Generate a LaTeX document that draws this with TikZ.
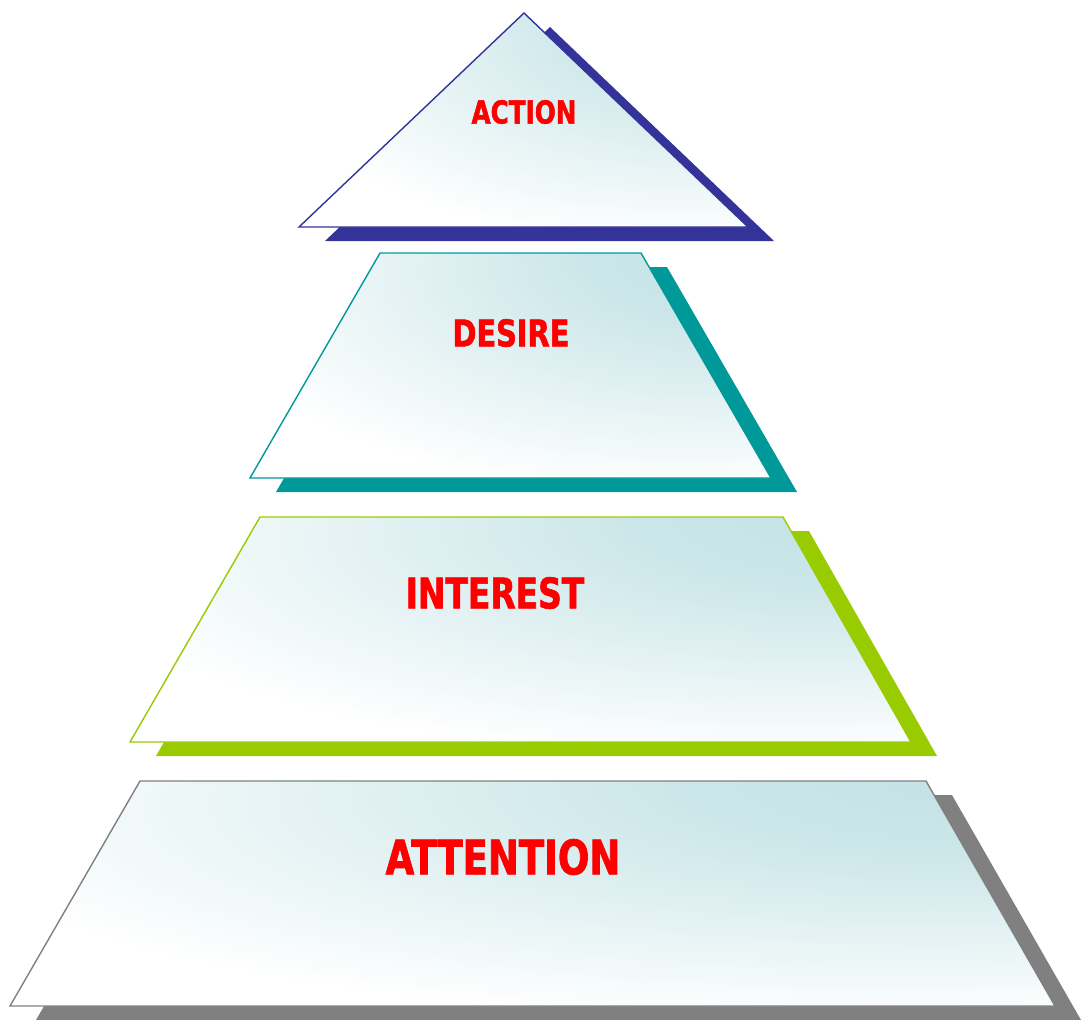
\documentclass[tikz,border=0pt]{standalone}
\usepackage{fontspec}
\usepackage{tikz}
\usetikzlibrary{shadings}
\newfontfamily\slabfont[FakeStretch=0.78, FakeBold=1.6]{DejaVu Sans}
\definecolor{glassteal}{RGB}{190,224,227}
\definecolor{actionblue}{RGB}{51,51,153}
\definecolor{desireteal}{RGB}{0,153,153}
\definecolor{interestgreen}{RGB}{153,204,0}
\definecolor{attentiongray}{RGB}{128,128,128}
\definecolor{labelred}{RGB}{255,0,0}
% glass-like fill, brightest towards the upper right corner
\pgfdeclareradialshading{glass}{\pgfpoint{28bp}{30bp}}{%
  color(0bp)=(glassteal); color(16bp)=(glassteal!80!white);
  color(45bp)=(white); color(100bp)=(white)}
\tikzset{
  % ----------------------------------------------------------------------------
  % one layer of the pyramid and the solid block behind it
  slab/.style={draw=#1, line width=0.8pt, shading=glass},
  slabshadow/.style={fill=#1, draw=none, shift={(26,14)}},
  % ----------------------------------------------------------------------------
  layertext/.style={text=labelred, inner sep=0pt,
    font={\slabfont\bfseries\fontsize{#1}{#1}\selectfont}}
}

\begin{document}
\begin{tikzpicture}[x=0.02cm, y=-0.02cm]
\useasboundingbox (0,0) rectangle (1082,1019);

% ------------------------------------------------- 
% top: action
\fill[slabshadow=actionblue] (524,13) -- (748,227) -- (299,227) -- cycle;
\path[slab=actionblue] (524,13) -- (748,227) -- (299,227) -- cycle;
\node [layertext=18pt] (action) at (524,112) {ACTION};

% ------------------------------------------------- 
% desire
\fill[slabshadow=desireteal] (380,253) -- (641,253) -- (771,478) -- (250,478) -- cycle;
\path[slab=desireteal] (380,253) -- (641,253) -- (771,478) -- (250,478) -- cycle;
\node [layertext=21pt] (desire) at (511,333) {DESIRE};

% ------------------------------------------------- 
% interest
\fill[slabshadow=interestgreen] (260,517) -- (783,517) -- (911,742) -- (130,742) -- cycle;
\path[slab=interestgreen] (260,517) -- (783,517) -- (911,742) -- (130,742) -- cycle;
\node [layertext=24pt] (interest) at (495,593) {INTEREST};

% ------------------------------------------------- 
% bottom: attention
\fill[slabshadow=attentiongray] (140,781) -- (926,781) -- (1055,1006) -- (10,1006) -- cycle;
\path[slab=attentiongray] (140,781) -- (926,781) -- (1055,1006) -- (10,1006) -- cycle;
\node [layertext=27pt] (attention) at (503,857) {ATTENTION};

\end{tikzpicture}
\end{document}
